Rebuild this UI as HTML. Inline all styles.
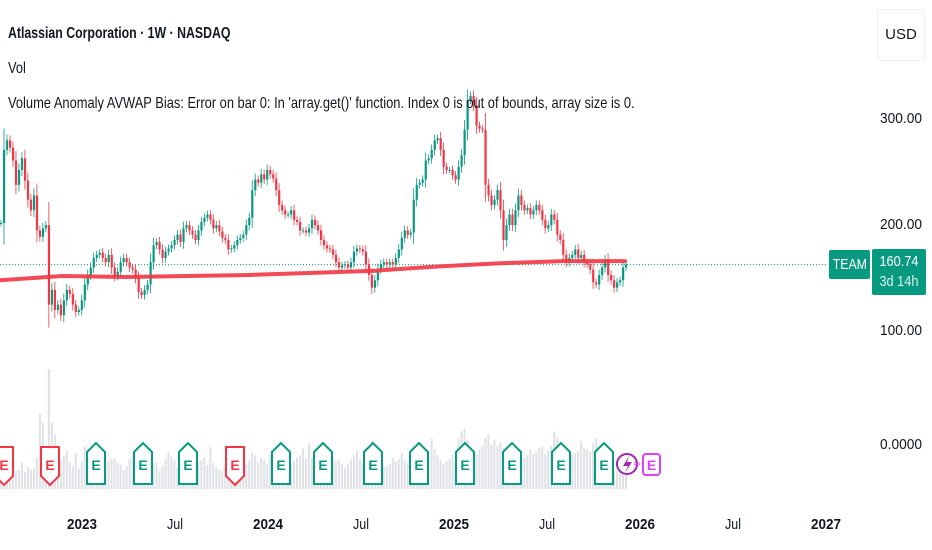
<!DOCTYPE html>
<html><head><meta charset="utf-8">
<style>
body{margin:0;background:#fff;font-family:"Liberation Sans Narrow","Liberation Sans",sans-serif;}
#wrap{position:relative;width:932px;height:550px;overflow:hidden;background:#fff;}
.t{position:absolute;color:#131722;white-space:nowrap;transform-origin:0 0;}
svg{position:absolute;left:0;top:0;}
</style></head><body>
<div id="wrap">
<svg id="svg" width="932" height="550"></svg>
<div class="t" style="left:8px;top:25px;font-size:16px;font-weight:bold;transform:scaleX(0.77);">Atlassian Corporation · 1W · NASDAQ</div>
<div class="t" style="left:8px;top:60px;font-size:16px;transform:scaleX(0.8);">Vol</div>
<div class="t" style="left:8px;top:95px;font-size:16px;transform:scaleX(0.805);">Volume Anomaly AVWAP Bias: Error on bar 0: In 'array.get()' function. Index 0 is out of bounds, array size is 0.</div>
<div style="position:absolute;left:877px;top:9px;width:48px;height:52px;border:1px solid #eceef2;border-radius:5px;box-sizing:border-box;font-size:15px;color:#131722;text-align:center;line-height:50px;">USD</div>
<div style="position:absolute;left:829px;top:250px;width:41px;height:29px;background:#089981;border-radius:2px;color:#fff;font-size:15px;text-align:center;line-height:29px;"><span style="display:inline-block;transform:scaleX(0.82);">TEAM</span></div>
<div style="position:absolute;left:872px;top:249px;width:54px;height:46px;background:#089981;border-radius:2px;color:#fff;font-size:15px;text-align:center;line-height:20px;padding-top:3px;box-sizing:border-box;"><span style="display:inline-block;transform:scaleX(0.85);">160.74</span><br><span style="display:inline-block;transform:scaleX(0.85);color:#d6f2ec">3d 14h</span></div>
</div>
<script>
const closes=[200,269,278,271,259,236,250,261,240,222,212,226,193,187,195,198,123,137,118,123,113,127,137,133,123,116,118,127,142,151,158,167,170,172,167,163,170,158,150,154,163,167,163,158,156,148,135,132,137,142,163,179,182,175,167,173,176,179,184,189,182,195,198,193,189,184,193,201,205,208,203,195,198,192,186,184,175,176,179,184,186,189,198,205,231,241,238,246,241,250,246,242,231,217,212,208,208,212,203,201,193,193,191,195,203,198,
193,184,179,176,175,170,163,158,160,161,158,163,173,176,175,173,161,151,139,146,156,161,163,161,163,161,167,175,186,193,189,191,222,236,238,241,259,261,269,278,280,269,253,250,250,245,241,253,264,288,316,320,311,292,289,288,236,226,217,222,231,212,184,198,208,198,212,226,217,212,214,208,212,217,212,203,195,198,208,203,189,184,170,163,167,170,175,167,170,163,161,156,144,142,151,158,165,151,146,139,144,146,158,160.74];
const volumes=[2,2.5,2.2,1.8,2,1.5,1.6,2.2,1.4,1.8,1.6,1.7,2.6,6.3,5.5,2.2,10,5.5,4.5,3,2.4,2.8,3.2,2.2,1.9,3,1.7,2.3,3.5,3.2,2.8,2.2,1.8,3,2.4,1.8,2.3,2.5,2.5,2.2,2,1.6,1.9,2.5,2.4,1.8,1.4,1.2,1.5,1.3,1.8,2.1,2.2,1.5,1.9,2.5,3.1,2.7,2.4,1.8,1.7,2,3.2,2.4,2.1,1.9,2.2,2.4,2.6,2,3.5,2.2,1.8,1.6,1.5,2,1.7,1.6,2.2,2.4,1.9,1.8,2,2.4,3,2.8,2.2,2.6,2.4,2.1,2.9,2.5,1.8,2.2,1.6,2.1,1.9,2,2.3,2.6,2.8,3.4,2.5,3.8,2.6,2.2,
2.4,2,2.6,2.4,3.1,2.7,2.3,2.4,2.1,1.8,2.1,2.4,2.8,3.2,2.5,2.2,3.4,2.5,4,2.8,2.6,2.2,1.8,1.9,2.1,2.6,2.3,2.5,3,2.4,2.2,2.4,3.5,3.1,2.8,2.6,3.2,2.7,4.2,3.3,2.8,2.4,2.1,2.3,2.5,2.9,3,4.2,4.8,5,4.1,3.5,3.3,2.9,3.3,3.6,4.3,4.6,3.7,4.1,3.6,3.9,3.4,3.5,3.1,3,3,3.1,3.3,2.6,2.8,3.3,2.9,3.1,3.4,3.5,2.9,3.2,3.6,4.8,4.3,3.8,3.2,3.1,3,2.9,3,3.2,4,3.4,3.3,3.1,3.8,4.2,2.2,2.1,2.4,2.2,1.9,1.6,1.5,1.4,1.8,1.5,1.6,2];
const avwap=[146,150,149,150,151,153,155,159,162,164,164];
const priceTicks=[300,200,100];
const yearLabels=["2023","Jul","2024","Jul","2025","Jul","2026","Jul","2027"];
const yearLabelFrac=[0,0.5,1,1.5,2,2.5,3,3.5,4];
const earnings=[4,50,96,143,188,235,281,323,373,419,465,512,561,604];
const earnBeat=[0,0,1,1,1,0,1,1,1,1,1,1,1,1];
const NS="http://www.w3.org/2000/svg";
const svg=document.getElementById('svg');
function yP(p){return 223-(p-200)*1.06;}
const n=closes.length;const step=625/(n-1);
function xI(i){return 1+i*step;}
function xT(f){return 82+f*186;}
function yV(v){return 489-v*12;}
function mk(t,a){const e=document.createElementNS(NS,t);for(const k in a)e.setAttribute(k,a[k]);svg.appendChild(e);return e;}
for(let i=0;i<volumes.length&&i<n;i++){
 const r=mk('rect',{x:xI(i)-1,y:yV(volumes[i]),width:2,height:489-yV(volumes[i]),fill:'#dfe1e6'});
 
 
}
const dl=mk('line',{x1:0,x2:828,y1:yP(closes[n-1]),y2:yP(closes[n-1]),stroke:'#089981','stroke-width':1,'stroke-dasharray':'1 2'});


for(let i=0;i<n;i++){
 const c=closes[i],o=i?closes[i-1]:c;const up=c>=o;const col=up?'#089981':'#f23645';
 const hi=Math.max(o,c)+Math.abs(c-o)*0.25+3,lo=Math.min(o,c)-Math.abs(c-o)*0.25-3;
 const x=xI(i);
 const w=mk('line',{x1:x,x2:x,y1:yP(hi),y2:yP(lo),stroke:col,'stroke-width':0.8});
 
 
 const b=mk('rect',{x:x-1,y:yP(Math.max(o,c)),width:2.2,height:Math.max(1,Math.abs(yP(o)-yP(c))),fill:col});
 
 
}
let d='';avwap.forEach((v,k)=>{d+=(k?'L':'M')+(k*62.5)+','+yP(v);});
const av=mk('path',{d:d,fill:'none',stroke:'#f23645','stroke-width':4,'stroke-linecap':'round','stroke-linejoin':'round',opacity:0.9});


const FF='Liberation Sans Narrow, Liberation Sans, sans-serif';
priceTicks.forEach(p=>{const t=mk('text',{x:880,y:yP(p)+6,'font-size':15,fill:'#131722','font-family':FF,textLength:42,lengthAdjust:'spacingAndGlyphs'});t.textContent=p.toFixed(2);
 
 });
const vt=mk('text',{x:880,y:449,'font-size':15,fill:'#131722','font-family':FF,textLength:42,lengthAdjust:'spacingAndGlyphs'});vt.textContent='0.0000';


yearLabels.forEach((l,k)=>{const t=mk('text',{x:xT(yearLabelFrac[k]),y:529,'text-anchor':'middle','font-size':15,fill:'#131722','font-weight':l==='Jul'?'normal':'bold','font-family':FF,textLength:l==='Jul'?16:30,lengthAdjust:'spacingAndGlyphs'});t.textContent=l;
 
 });
earnings.forEach((x,k)=>{const g=document.createElementNS(NS,'g');svg.appendChild(g);
 
 
 const beat=earnBeat[k];const col=beat?'#089981':'#f23645';
 const p=document.createElementNS(NS,'path');
 const pd=beat?`M${x-9},${452} L${x},${443} L${x+9},${452} L${x+9},${484} L${x-9},${484} Z`:`M${x-9},${447} L${x+9},${447} L${x+9},${476} L${x},${485} L${x-9},${476} Z`;
 p.setAttribute('d',pd);p.setAttribute('fill','#fff');p.setAttribute('stroke',col);p.setAttribute('stroke-width',2);g.appendChild(p);
 const t=document.createElementNS(NS,'text');t.setAttribute('x',x);t.setAttribute('y',470);t.setAttribute('text-anchor','middle');t.setAttribute('font-size',14);t.setAttribute('font-weight','bold');t.setAttribute('fill',col);t.setAttribute('font-family','Liberation Sans, sans-serif');t.textContent='E';g.appendChild(t);});
const dv=mk('circle',{cx:627,cy:464,r:10,fill:'#fff',stroke:'#9c27b0','stroke-width':2});


const bolt=mk('path',{d:'M629,456 L623,466 L628,466 L625,473 L632,462 L627,462 Z',fill:'#9c27b0'});


const fe=mk('rect',{x:643,y:454,width:17,height:21,rx:3,fill:'#fff',stroke:'#e040fb','stroke-width':2});


const ft=mk('text',{x:651.5,y:470,'text-anchor':'middle','font-size':14,'font-weight':'bold',fill:'#e040fb','font-family':'Liberation Sans, sans-serif'});ft.textContent='E';


const ap=mk('text',{x:637,y:467,'text-anchor':'middle','font-size':10,fill:'#e040fb','font-family':'DejaVu Sans, sans-serif'});ap.textContent='≈';


</script>
</body></html>
